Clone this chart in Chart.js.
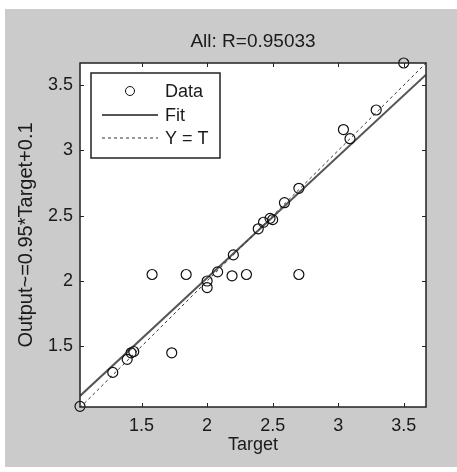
<!DOCTYPE html>
<html>
<head>
<meta charset="utf-8">
<script src="https://cdn.jsdelivr.net/npm/chart.js@4.4.0/dist/chart.umd.min.js"></script>
<style>
  body { margin: 0; background: #fff; }
  #wrap { width: 457px; height: 472px; position: relative; }
</style>
</head>
<body>
<div id="wrap"><canvas id="canvasDiv"></canvas></div>
<script>
//data
var targets = [1.03, 1.28, 1.39, 1.42, 1.44, 1.73, 1.58, 1.84, 2.0, 2.0, 2.08, 2.19, 2.3, 2.7,
  2.2, 2.39, 2.43, 2.48, 2.5, 2.59, 2.7, 3.04, 3.09, 3.29, 3.5];
var outputs = [1.04, 1.3, 1.4, 1.45, 1.46, 1.45, 2.05, 2.05, 2.0, 1.95, 2.07, 2.04, 2.05, 2.05,
  2.2, 2.4, 2.45, 2.48, 2.47, 2.6, 2.71, 3.16, 3.09, 3.31, 3.67];
var fitX = [1.03, 3.67];
var fitY = [1.12, 3.58];
var identX = [1.03, 3.67];
var tickVals = [1.5, 2, 2.5, 3, 3.5];
var xMin = 1.03, xMax = 3.67;
var yMin = 1.035, yMax = 3.67;
var titleText = "All: R=0.95033";

const canvasDiv = document.getElementById("canvasDiv");
const FONT = "'Liberation Sans', Arial, sans-serif";
const TXT = "#1a1a1a";

function toPts(xs, ys) {
  var out = [];
  for (let i = 0; i < xs.length; i++) out.push({ x: xs[i], y: ys[i] });
  return out;
}

//gray panel, white axes box, border, inward ticks, title, legend
const matlabLook = {
  id: "matlabLook",
  beforeDraw(chart) {
    const ctx = chart.ctx;
    const a = chart.chartArea;
    ctx.save();
    ctx.fillStyle = "#cbcbcb";
    ctx.fillRect(5, 9, 452, 458);
    ctx.fillStyle = "#fff";
    ctx.fillRect(a.left, a.top, a.right - a.left, a.bottom - a.top);
    ctx.restore();
  },
  afterDraw(chart) {
    const ctx = chart.ctx;
    const a = chart.chartArea;
    const xs = chart.scales.x;
    const ys = chart.scales.y;
    ctx.save();
    ctx.strokeStyle = "#222";
    ctx.lineWidth = 1.5;
    ctx.strokeRect(a.left, a.top, a.right - a.left, a.bottom - a.top);
    ctx.lineWidth = 1;
    ctx.beginPath();
    tickVals.forEach(function (v) {
      var px = Math.round(xs.getPixelForValue(v)) + 0.5;
      ctx.moveTo(px, a.bottom); ctx.lineTo(px, a.bottom - 4);
      ctx.moveTo(px, a.top); ctx.lineTo(px, a.top + 4);
      var py = Math.round(ys.getPixelForValue(v)) + 0.5;
      ctx.moveTo(a.left, py); ctx.lineTo(a.left + 4, py);
      ctx.moveTo(a.right, py); ctx.lineTo(a.right - 4, py);
    });
    ctx.stroke();

    //title over the axes box
    ctx.font = "19px " + FONT;
    ctx.fillStyle = TXT;
    ctx.textAlign = "center";
    ctx.textBaseline = "middle";
    ctx.fillText(titleText, (a.left + a.right) / 2, 42);

    //legend box
    var lx = a.left + 11, ly = a.top + 10, lw = 129, lh = 85;
    ctx.fillStyle = "#fff";
    ctx.fillRect(lx, ly, lw, lh);
    ctx.strokeStyle = "#222";
    ctx.lineWidth = 1.5;
    ctx.strokeRect(lx, ly, lw, lh);
    var ds = chart.data.datasets;
    ctx.font = "18px " + FONT;
    ctx.fillStyle = TXT;
    ctx.textBaseline = "middle";
    ctx.textAlign = "left";
    var rows = [ly + 18, ly + 42, ly + 65];
    ctx.lineWidth = 1;
    ctx.strokeStyle = "#111";
    ctx.beginPath();
    ctx.arc(lx + 39, rows[0], 4.5, 0, Math.PI * 2);
    ctx.stroke();
    ctx.strokeStyle = ds[1].borderColor;
    ctx.lineWidth = ds[1].borderWidth;
    ctx.beginPath();
    ctx.moveTo(lx + 11, rows[1]); ctx.lineTo(lx + 67, rows[1]);
    ctx.stroke();
    ctx.strokeStyle = ds[2].borderColor;
    ctx.lineWidth = ds[2].borderWidth;
    ctx.setLineDash(ds[2].borderDash);
    ctx.beginPath();
    ctx.moveTo(lx + 11, rows[2]); ctx.lineTo(lx + 67, rows[2]);
    ctx.stroke();
    ctx.setLineDash([]);
    for (let i = 0; i < 3; i++) ctx.fillText(ds[i].label, lx + 74, rows[i] + 1);
    ctx.restore();
  },
};

var chart = new Chart(canvasDiv, {
  type: "scatter",
  data: {
    datasets: [
      {
        label: "Data",
        data: toPts(targets, outputs),
        pointStyle: "circle",
        pointRadius: 5,
        pointBorderWidth: 1.2,
        borderColor: "#111",
        backgroundColor: "rgba(0,0,0,0)",
        clip: false,
        order: 0,
      },
      {
        label: "Fit",
        data: toPts(fitX, fitY),
        showLine: true,
        pointRadius: 0,
        borderColor: "#555",
        borderWidth: 2,
        order: 2,
      },
      {
        label: "Y = T",
        data: toPts(identX, identX),
        showLine: true,
        pointRadius: 0,
        borderColor: "#333",
        borderWidth: 1,
        borderDash: [3, 3],
        order: 1,
      },
    ],
  },
  options: {
    responsive: true,
    maintainAspectRatio: false,
    animation: false,
    layout: { padding: { top: 63, right: 31, bottom: 0, left: 0 } },
    plugins: {
      legend: { display: false },
      tooltip: { enabled: false },
      title: { display: false },
    },
    scales: {
      x: {
        type: "linear",
        min: xMin,
        max: xMax,
        afterBuildTicks: function (s) { s.ticks = tickVals.map(function (v) { return { value: v }; }); },
        afterFit: function (s) { s.height = 65; },
        grid: { display: false, drawTicks: false },
        border: { display: false },
        ticks: { color: TXT, padding: 8, font: { family: FONT, size: 18 }, callback: function (v) { return String(v); } },
        title: { display: true, text: "Target", color: TXT, font: { family: FONT, size: 18 }, padding: { top: 0, bottom: 16 } },
      },
      y: {
        type: "linear",
        min: yMin,
        max: yMax,
        afterBuildTicks: function (s) { s.ticks = tickVals.map(function (v) { return { value: v }; }); },
        afterFit: function (s) { s.width = 80; },
        grid: { display: false, drawTicks: false },
        border: { display: false },
        ticks: { color: TXT, padding: 7, font: { family: FONT, size: 18 }, callback: function (v) { return String(v); } },
        title: { display: true, text: "Output~=0.95*Target+0.1", color: TXT, font: { family: FONT, size: 20 }, padding: { top: 14, bottom: 0 } },
      },
    },
  },
  plugins: [matlabLook],
});
</script>
</body>
</html>
